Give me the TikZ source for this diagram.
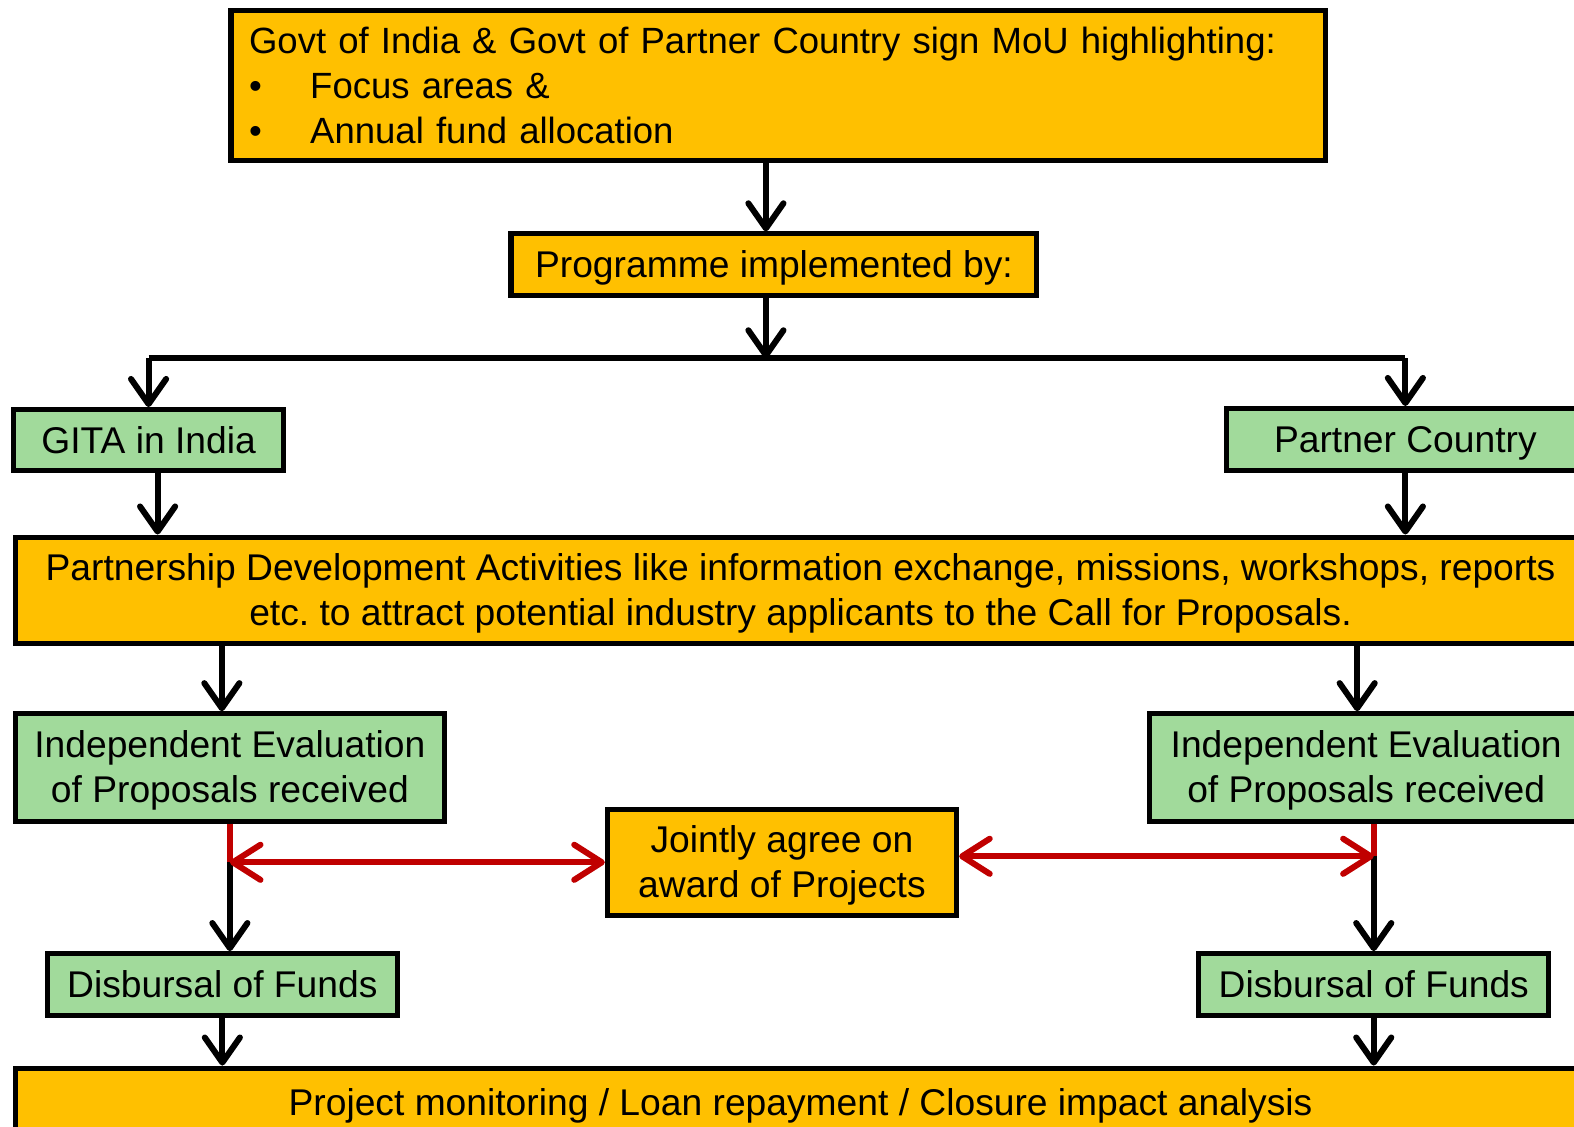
\documentclass[tikz,border=0pt]{standalone}
\usepackage{fontspec}
\setmainfont{Liberation Sans}
\frenchspacing
\usetikzlibrary{arrows.meta}
\definecolor{boxorange}{RGB}{255,192,0}
\definecolor{boxgreen}{RGB}{161,218,155}
\definecolor{linkred}{RGB}{192,0,0}
\tikzset{
  orangebox/.style={draw,line width=0.1cm,fill=boxorange,inner sep=0pt,align=center},
  greenbox/.style={draw,line width=0.1cm,fill=boxgreen,inner sep=0pt,align=center},
  oneline/.style={text height=19.2pt,text depth=4.5pt},
  twolines/.style={text height=44.7pt,text depth=4.5pt},
  arr/.style={line width=0.12cm,-{Straight Barb[length=0.5cm,width=0.7cm,line cap=round,line join=round]}},
  redarr/.style={line width=0.12cm,linkred,{Straight Barb[length=0.55cm,width=0.7cm,line cap=round,line join=round]}-{Straight Barb[length=0.55cm,width=0.7cm,line cap=round,line join=round]}}
}
\begin{document}
\begin{tikzpicture}[x=0.02cm,y=-0.02cm,font=\fontsize{21.1}{25.5}\selectfont]
\useasboundingbox (0,0) rectangle (1568,1122);
\clip (0,0) rectangle (1568,1122);

% MoU box
\node[orangebox,minimum width=21.82cm,minimum height=3cm,text width=21.1cm,align=left,
      font=\fontsize{20.7}{25.5}\selectfont,text height=19pt,text depth=55.5pt] (mou) at (775.5,85)
  {Govt of India \& Govt of Partner Country sign MoU highlighting:\\
   \makebox[1.22cm][l]{\textbullet}Focus areas \&\\
   \makebox[1.22cm][l]{\textbullet}Annual fund allocation};

% implementing agencies
\node[orangebox,oneline,minimum width=10.48cm,minimum height=1.22cm] (prog) at (771,263.5) {Programme implemented by:};
\coordinate (split) at (763,357);
\node[greenbox,oneline,minimum width=5.38cm,minimum height=1.22cm] (gita) at (148,438.5) {GITA in India};
\node[greenbox,oneline,minimum width=7.12cm,minimum height=1.24cm] (partner) at (1400,438) {Partner Country};

% partnership activities
\node[orangebox,twolines,minimum width=31.3cm,minimum height=2.12cm] (pda) at (797.5,588)
  {Partnership Development Activities like information exchange, missions, workshops, reports\\
   etc. to attract potential industry applicants to the Call for Proposals.};

% evaluation and award
\node[greenbox,twolines,minimum width=8.56cm,minimum height=2.14cm] (evalL) at (229,764.5) {Independent Evaluation\\of Proposals received};
\node[greenbox,twolines,minimum width=8.62cm,minimum height=2.14cm] (evalR) at (1361,764.5) {Independent Evaluation\\of Proposals received};
\node[orangebox,twolines,minimum width=6.96cm,minimum height=2.12cm] (joint) at (779,859) {Jointly agree on\\award of Projects};

% funds
\node[greenbox,oneline,minimum width=6.98cm,minimum height=1.24cm] (disbL) at (221.5,981) {Disbursal of Funds};
\node[greenbox,oneline,minimum width=6.98cm,minimum height=1.24cm] (disbR) at (1368.5,981) {Disbursal of Funds};
\node[orangebox,oneline,minimum width=31.3cm,minimum height=1.36cm] (monitor) at (797.5,1098)
  {Project monitoring / Loan repayment / Closure impact analysis};

% arrows
\draw[arr] (mou.south -| split) -- (prog.north -| split);
\draw[arr] (prog.south -| split) -- (split);
\draw[line width=0.12cm] (gita.north |- split) -- (partner.north |- split);
\draw[arr] (gita.north |- split) -- (gita.north);
\draw[arr] (partner.north |- split) -- (partner.north);
\draw[arr] ([xshift=0.18cm]gita.south) -- ([xshift=0.18cm]gita.south |- pda.north);
\draw[arr] (partner.south) -- (partner.south |- pda.north);
\draw[arr] ([xshift=-0.16cm]evalL.north |- pda.south) -- ([xshift=-0.16cm]evalL.north);
\draw[arr] ([xshift=-0.18cm]evalR.north |- pda.south) -- ([xshift=-0.18cm]evalR.north);

% joint award links
\coordinate (midL) at (evalL.south |- joint.west);
\coordinate (midR) at ([yshift=0.12cm]joint.east -| disbR.north);
\draw[line width=0.12cm,linkred] (evalL.south) -- (midL);
\draw[line width=0.12cm,linkred] (evalR.south -| midR) -- (midR);
\draw[arr] (midL) -- (midL |- disbL.north);
\draw[arr] (midR) -- (disbR.north);
\draw[redarr] (midL) -- (joint.west);
\draw[redarr] ([yshift=0.12cm]joint.east) -- (midR);

\draw[arr] (disbL.south) -- (disbL.south |- monitor.north);
\draw[arr] (disbR.south) -- (disbR.south |- monitor.north);
\end{tikzpicture}
\end{document}
